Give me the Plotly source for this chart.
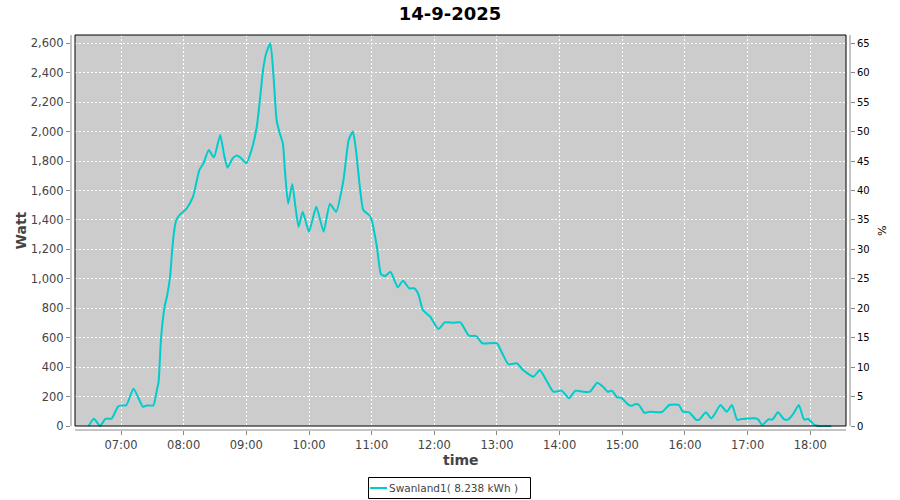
import plotly.graph_objects as go

# ---- data ----
times = ["06:29", "06:34", "06:40", "06:45", "06:51", "06:57", "07:00", "07:05", "07:12", "07:21",
         "07:25", "07:31", "07:34", "07:36", "07:38", "07:40", "07:42", "07:44", "07:47", "07:49",
         "07:51", "07:53", "07:56", "08:03", "08:09", "08:15", "08:19", "08:24", "08:29", "08:35",
         "08:39", "08:42", "08:47", "08:51", "08:55", "09:00", "09:05", "09:10", "09:13", "09:16",
         "09:19", "09:23", "09:26", "09:29", "09:32", "09:35", "09:37", "09:40", "09:44", "09:47",
         "09:50", "09:54", "10:00", "10:07", "10:14", "10:20", "10:26", "10:33", "10:38", "10:42",
         "10:45", "10:49", "10:52", "10:58", "11:00", "11:05", "11:09", "11:13", "11:18", "11:25",
         "11:30", "11:36", "11:41", "11:45", "11:49", "11:56", "12:04", "12:10", "12:18", "12:25",
         "12:33", "12:40", "12:46", "13:00", "13:05", "13:11", "13:19", "13:25", "13:35", "13:41",
         "13:48", "13:54", "14:02", "14:09", "14:15", "14:22", "14:29", "14:36", "14:42", "14:46",
         "14:50", "14:55", "14:59", "15:06", "15:09", "15:13", "15:16", "15:21", "15:26", "15:38",
         "15:45", "15:54", "15:58", "16:04", "16:11", "16:14", "16:20", "16:25", "16:28", "16:34",
         "16:40", "16:45", "16:50", "16:54", "17:07", "17:10", "17:14", "17:20", "17:24", "17:29",
         "17:35", "17:39", "17:44", "17:49", "17:54", "17:58", "18:04", "18:09", "18:20"]
watts = [0, 50, 0, 48, 50, 131, 140, 140, 253, 131,
         140, 140, 233, 300, 560, 720, 820, 880, 1014, 1196,
         1330, 1400, 1433, 1479, 1558, 1739, 1785, 1875, 1825, 1977,
         1830, 1755, 1819, 1837, 1819, 1785, 1875, 2033, 2215, 2418,
         2532, 2600, 2380, 2079, 1989, 1920, 1730, 1510, 1644, 1490,
         1354, 1456, 1320, 1490, 1320, 1508, 1456, 1671, 1943, 2000,
         1875, 1603, 1467, 1430, 1400, 1218, 1030, 1019, 1048, 942,
         987, 935, 935, 890, 788, 743, 659, 704, 702, 704,
         614, 611, 562, 562, 494, 419, 426, 380, 335, 380,
         301, 233, 240, 188, 240, 233, 233, 294, 263, 233,
         240, 195, 192, 143, 138, 149, 143, 90, 97, 95,
         143, 143, 97, 93, 41, 45, 93, 52, 75, 143,
         97, 143, 41, 48, 52, 45, 7, 45, 45, 93,
         45, 45, 86, 143, 45, 48, 7, 0, 0]
day = "2025-09-14"
series_name = "Swanland1( 8.238 kWh )"
title_text = "14-9-2025"
x_title = "time"
y_title = "Watt"
y2_title = "%"

x = [f"{day} {t}" for t in times]
line_color = "#00CCCC"

fig = go.Figure()
fig.add_trace(go.Scatter(
    x=x, y=watts, mode="lines", name=series_name, showlegend=False,
    line=dict(color=line_color, width=2, shape="spline", smoothing=0.5),
    hoverinfo="skip",
))
fig.add_trace(go.Scatter(x=[x[0]], y=[None], yaxis="y2", mode="lines",
                         showlegend=False, hoverinfo="skip"))

tick_font = dict(family="DejaVu Sans", size=11.5, color="#444444")
grid = dict(showgrid=True, gridcolor="white", gridwidth=1, griddash="2px,2px")
label_font = dict(family="DejaVu Sans", size=14, color="#444444", weight="bold")

# plotly plot area spans the offset axis lines (71..850, 31..430); inner data area is 4px inset
L, T, pw, ph = 71.0, 31.0, 779.0, 399.0
ix0, ix1 = 4 / pw, 1 - 4 / pw
iy0, iy1 = 4 / ph, 1 - 4 / ph


def px(xp):
    return (xp - L) / pw


def py(yp):
    return (T + ph - yp) / ph


fig.update_layout(
    width=900, height=500,
    margin=dict(l=71, r=50, t=31, b=70, pad=0, autoexpand=False),
    paper_bgcolor="white", plot_bgcolor="white", showlegend=False,
    title=dict(text=title_text, x=0.5, xref="container", xanchor="center",
               y=1 - 14 / 500, yref="container", yanchor="middle",
               font=dict(family="DejaVu Sans", size=18, color="black", weight="bold")),
    xaxis=dict(
        type="date", range=[f"{day} 06:12:07", f"{day} 18:38:01"], automargin=False,
        tickformat="%H:%M", dtick=3600000, tick0=f"{day} 07:00",
        ticks="outside", ticklen=4, tickcolor="#888888", showline=False, zeroline=False,
        tickfont=tick_font, **grid,
    ),
    yaxis=dict(
        range=[-27.2, 2683.6], dtick=200, tick0=0, tickformat=",d", automargin=False,
        ticks="outside", ticklen=4, tickcolor="#888888", showline=False, zeroline=False,
        tickfont=tick_font, **grid,
    ),
    yaxis2=dict(
        overlaying="y", side="right", range=[-0.68, 67.09], dtick=5, tick0=0, automargin=False,
        ticks="outside", ticklen=4, tickcolor="#888888", showline=False, zeroline=False,
        showgrid=False,
        tickfont=dict(family="DejaVu Sans", size=10, color="black"),
    ),
    annotations=[
        dict(text=y_title, xref="paper", yref="paper", x=px(20), y=0.5,
             xanchor="center", yanchor="middle", textangle=-90, showarrow=False,
             font=label_font),
        dict(text=x_title, xref="paper", yref="paper", x=px(461), y=py(460),
             xanchor="center", yanchor="middle", showarrow=False, font=label_font),
        dict(text=y2_title, xref="paper", yref="paper", x=px(881), y=0.5,
             xanchor="center", yanchor="middle", textangle=90, showarrow=False,
             font=dict(family="DejaVu Sans", size=11, color="black")),
        # legend entry text
        dict(text=series_name, xref="paper", yref="paper", x=px(388), y=py(488),
             xanchor="left", yanchor="middle", showarrow=False, borderpad=0,
             font=dict(family="DejaVu Sans", size=10.5, color="#444444")),
    ],
    shapes=[
        dict(type="rect", xref="paper", yref="paper", x0=ix0, x1=ix1, y0=iy0, y1=iy1,
             fillcolor="#CCCCCC", line=dict(width=0), layer="below"),
        dict(type="rect", xref="paper", yref="paper", x0=ix0, x1=ix1, y0=iy0, y1=iy1,
             line=dict(color="black", width=1), layer="above"),
        dict(type="line", xref="paper", yref="paper", x0=0, x1=0, y0=iy0, y1=iy1,
             line=dict(color="#888888", width=1)),
        dict(type="line", xref="paper", yref="paper", x0=1, x1=1, y0=iy0, y1=iy1,
             line=dict(color="#888888", width=1)),
        dict(type="line", xref="paper", yref="paper", x0=ix0, x1=ix1, y0=0, y1=0,
             line=dict(color="#888888", width=1)),
        # legend box and sample line
        dict(type="rect", xref="paper", yref="paper", x0=px(368.5), x1=px(530.5),
             y0=py(477.5), y1=py(498.5), line=dict(color="black", width=1),
             fillcolor="white", layer="below"),
        dict(type="line", xref="paper", yref="paper", x0=px(370), x1=px(387),
             y0=py(488), y1=py(488), line=dict(color=line_color, width=2)),
    ],
)

fig.write_html("out.html", config={"displayModeBar": False},
               post_script="document.body.style.margin='0';")
